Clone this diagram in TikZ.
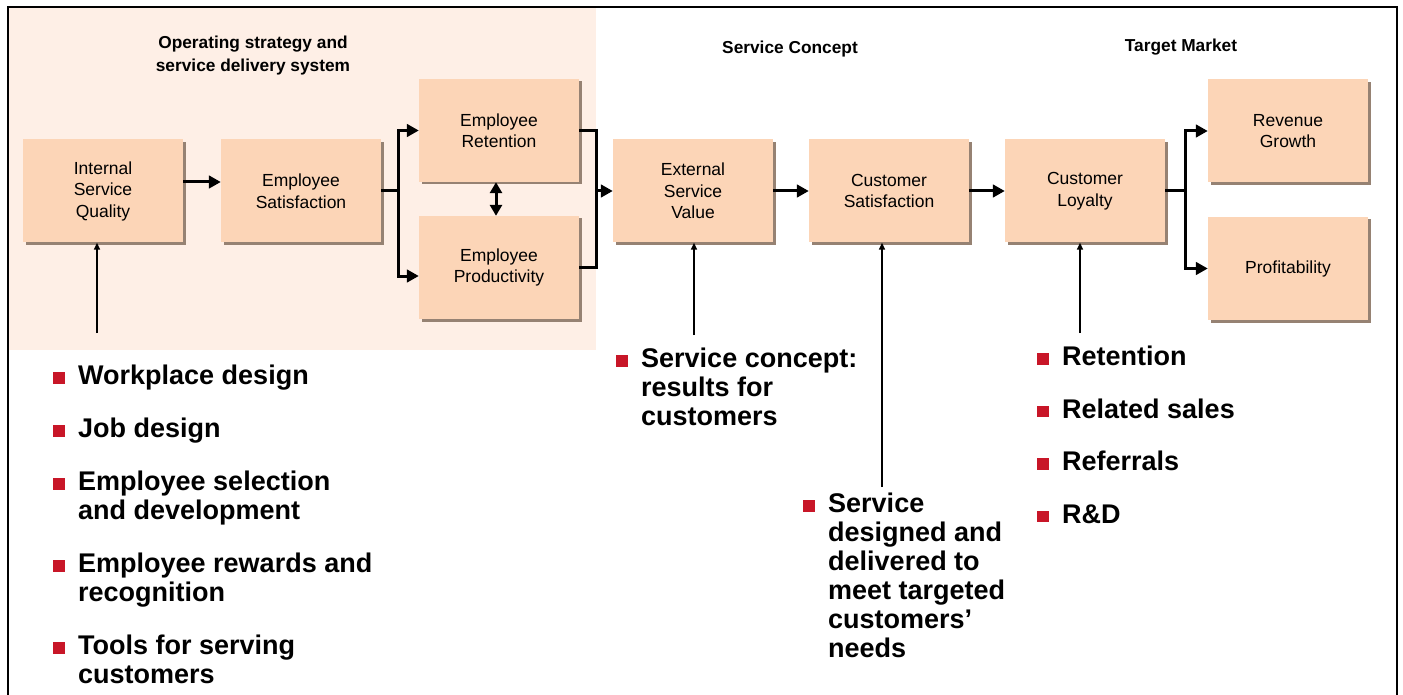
\documentclass[tikz,border=0pt]{standalone}
\usepackage{fontspec}
\setmainfont{Liberation Sans}
\usetikzlibrary{arrows.meta,shadows,positioning}
\definecolor{peach}{RGB}{252,213,183}
\definecolor{bgpeach}{RGB}{254,239,230}
\definecolor{shadowbrown}{RGB}{150,130,115}
\definecolor{bulred}{RGB}{200,22,40}
\newcommand{\bul}{\makebox[25pt][l]{\textcolor{bulred}{\rule[1pt]{11.5pt}{11.5pt}}}}
\newcommand{\ind}{\hspace*{25pt}}
\tikzset{
    chainbox/.style={fill=peach, minimum width=160pt, minimum height=103pt, inner sep=0pt, align=center,
        font=\fontsize{17.5}{21.5}\selectfont,
        drop shadow={shadow xshift=2.5pt, shadow yshift=-2.5pt, fill=shadowbrown, opacity=1}},
    heading/.style={font=\bfseries\fontsize{17.3}{23}\selectfont, align=center, inner sep=0pt, anchor=north},
    bullets/.style={font=\bfseries\fontsize{27}{29}\selectfont, align=left, anchor=north west, inner sep=0pt},
    link/.style={line width=3pt},
    thickarrow/.style={line width=3pt, -{Triangle[length=12pt,width=12.5pt]}},
    thinarrow/.style={line width=1.5pt, -{Triangle[length=7pt,width=6pt]}},
}
\begin{document}
\begin{tikzpicture}[x=1pt, y=-1pt]
    \useasboundingbox (0,0) rectangle (1403,695);
    % shaded operating strategy area and frame
    \fill[bgpeach] (8,7) rectangle (596,350);
    \draw[line width=2.5pt] (8,695) -- (8,7) -- (1397,7) -- (1397,695);

    % headings
    \node [heading] (ophead) at (253,35.5) {Operating strategy and\\service delivery system};
    \node [heading] (conhead) at (790,40.5) {Service Concept};
    \node [heading] (markhead) at (1181,38.5) {Target Market};

    % the chain
    \node [chainbox] (isq) at (103,191) {Internal\\Service\\Quality};
    \node [chainbox] (es) at (301,191) {Employee\\Satisfaction};
    \node [chainbox] (er) at (499,130.5) {Employee\\Retention};
    \node [chainbox] (ep) at (499,267.5) {Employee\\Productivity};
    \node [chainbox] (esv) at (693,191) {External\\Service\\Value};
    \node [chainbox] (cs) at (889,191) {Customer\\Satisfaction};
    \node [chainbox] (cl) at (1085,191) {Customer\\Loyalty};
    \node [chainbox] (rg) at (1288,131) {Revenue\\Growth};
    \node [chainbox] (pr) at (1288,268.5) {Profitability};

    % thick connectors
    \draw [thickarrow] ([yshift=9pt]isq.east) -- ([yshift=9pt]es.west);
    \draw [link] (es.east) -- ++(17,0) coordinate (esfork);
    \draw [thickarrow] (esfork) |- (er.west);
    \draw [thickarrow] (esfork) |- ([yshift=-8.5pt]ep.west);
    \draw [line width=3pt, {Triangle[length=11pt,width=12pt]}-{Triangle[length=11pt,width=12pt]}] ([xshift=-3pt]er.south) -- ([xshift=-3pt]ep.north);
    \draw [link] (er.east) -- ++(17,0) coordinate (erjoin) |- (ep.east);
    \draw [thickarrow] (erjoin |- esv.west) -- (esv.west);
    \draw [thickarrow] (esv.east) -- (cs.west);
    \draw [thickarrow] (cs.east) -- (cl.west);
    \draw [link] (cl.east) -- ++(20,0) coordinate (clfork);
    \draw [thickarrow] (clfork) |- (rg.west);
    \draw [thickarrow] (clfork) |- (pr.west);

    % thin connectors from the lists
    \coordinate (isqin) at (97,333);
    \coordinate (esvin) at (694,335);
    \coordinate (csin) at (882,487);
    \coordinate (clin) at (1080,333);
    \draw [thinarrow] (isqin) -- (isqin |- isq.south);
    \draw [thinarrow] (esvin) -- (esvin |- esv.south);
    \draw [thinarrow] (csin) -- (csin |- cs.south);
    \draw [thinarrow] (clin) -- (clin |- cl.south);

    % bullet lists
    \node [bullets] (isqlist) at (53,365) {\bul Workplace design\\[24pt]
        \bul Job design\\[24pt]
        \bul Employee selection\\ \ind and development\\[24pt]
        \bul Employee rewards and\\ \ind recognition\\[24pt]
        \bul Tools for serving\\ \ind customers};
    \node [bullets] (esvlist) at (616,348) {\bul Service concept:\\ \ind results for\\ \ind customers};
    \node [bullets] (cslist) at (803,493) {\bul Service\\ \ind designed and\\ \ind delivered to\\ \ind meet targeted\\ \ind customers’\\ \ind needs};
    \node [bullets] (cllist) at (1037,346) {\bul Retention\\[23.5pt]
        \bul Related sales\\[23.5pt]
        \bul Referrals\\[23.5pt]
        \bul R\&D};
\end{tikzpicture}
\end{document}
